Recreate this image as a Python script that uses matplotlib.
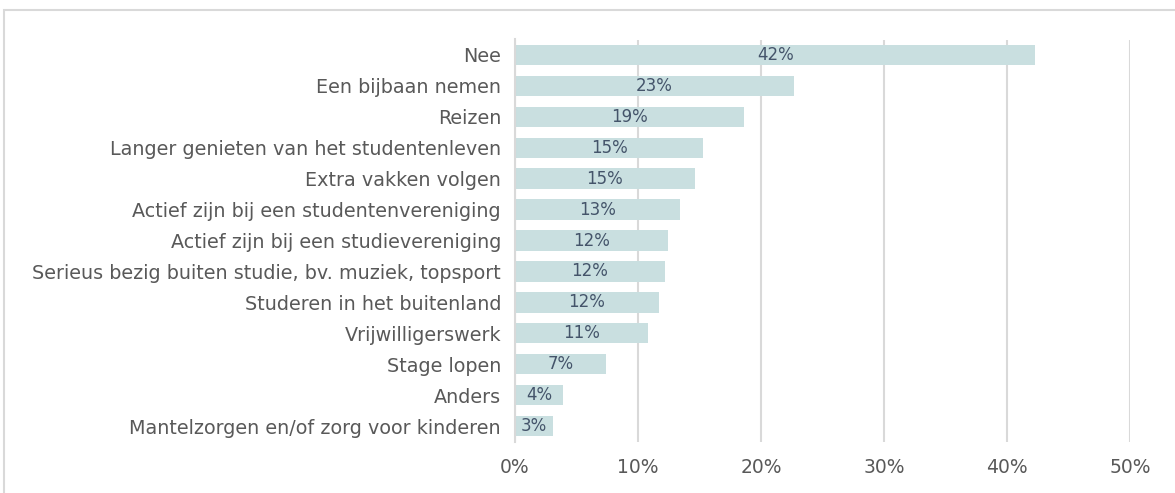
import matplotlib
matplotlib.use("Agg")
import matplotlib.pyplot as plt
from matplotlib.patches import Rectangle

categories = [
    "Nee",
    "Een bijbaan nemen",
    "Reizen",
    "Langer genieten van het studentenleven",
    "Extra vakken volgen",
    "Actief zijn bij een studentenvereniging",
    "Actief zijn bij een studievereniging",
    "Serieus bezig buiten studie, bv. muziek, topsport",
    "Studeren in het buitenland",
    "Vrijwilligerswerk",
    "Stage lopen",
    "Anders",
    "Mantelzorgen en/of zorg voor kinderen",
]
values = [42.3, 22.7, 18.6, 15.3, 14.6, 13.4, 12.4, 12.2, 11.7, 10.8, 7.4, 3.9, 3.1]
value_labels = ["42%", "23%", "19%", "15%", "15%", "13%", "12%", "12%", "12%", "11%", "7%", "4%", "3%"]
xticks = [0, 10, 20, 30, 40, 50]

plt.rcParams['font.family'] = ['DejaVu Sans']

W, H = 1175, 493
fig = plt.figure(figsize=(W / 100, H / 100), dpi=100)

# chart border
fig.patches.append(Rectangle((4 / W, -0.1), 1.2, (H - 10) / H + 0.1, transform=fig.transFigure,
                             fill=False, edgecolor="#D9D9D9", linewidth=1.5, zorder=0))

left, right = 515 / W, 1130 / W
top, bottom = 1 - 39.5 / H, 1 - 441.5 / H
ax = fig.add_axes([left, bottom, right - left, top - bottom])

y = list(range(len(categories)))
ax.barh(y, values, height=0.66, color="#C9DFE0", zorder=2)
for yi, v, lab in zip(y, values, value_labels):
    ax.text(v / 2, yi, lab, ha="center", va="center", fontsize=12, color="#44546A", zorder=3)

ax.set_xlim(0, 50)
ax.set_ylim(len(categories) - 0.5, -0.5)
ax.set_yticks(y)
ax.set_yticklabels(categories, fontsize=13.8, color="#595959")
ax.set_xticks(xticks)
ax.set_xticklabels([f"{t}%" for t in xticks], fontsize=13.5, color="#595959")
ax.tick_params(axis="both", length=0)
ax.tick_params(axis="y", pad=10)
ax.tick_params(axis="x", pad=12)
ax.xaxis.grid(True, color="#D9D9D9", linewidth=1.5, zorder=0)
ax.set_axisbelow(True)
for s in ["top", "right", "bottom"]:
    ax.spines[s].set_visible(False)
ax.spines["left"].set_color("#D9D9D9")
ax.spines["left"].set_linewidth(1.5)

fig.savefig("out.png", dpi=100)
